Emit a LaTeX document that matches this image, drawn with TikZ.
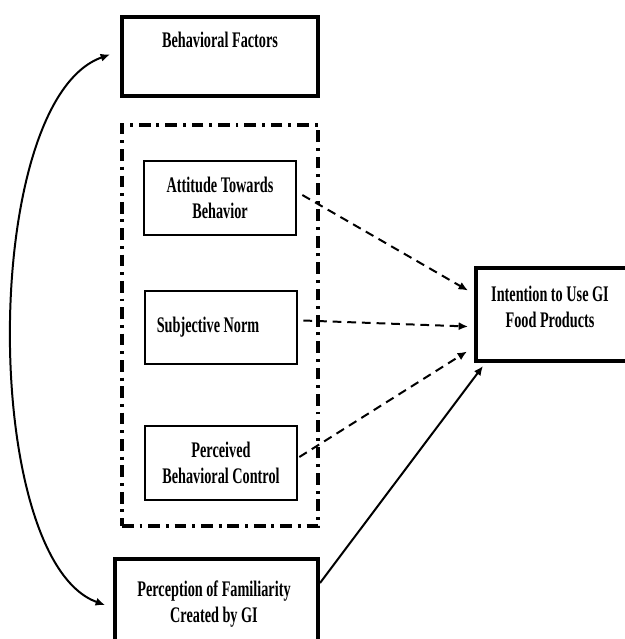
\documentclass[tikz,border=0pt]{standalone}
\usepackage{fontspec}
\setmainfont[FakeStretch=0.64]{Liberation Serif}
\usetikzlibrary{arrows.meta, positioning}

\begin{document}
\begin{tikzpicture}[x=0.03cm,y=-0.03cm,>={Latex[length=8pt,width=7pt]},
                every node/.style={align=center, font=\bfseries\fontsize{19}{22}\selectfont},
                outer/.style={draw, rectangle, line width=3.4pt, inner sep=0pt},
                inner/.style={draw, rectangle, line width=2pt, inner sep=0pt, minimum width=4.57cm},
                group/.style={draw, rectangle, line width=3.4pt, dash pattern=on 10pt off 5pt on 2.5pt off 5pt},
                link/.style={->, line width=1.7pt},
                dashlink/.style={->, line width=1.7pt, dash pattern=on 7.5pt off 5pt}
                ]
                \useasboundingbox (0,0) rectangle (625,639);
                \node[outer, minimum width=5.88cm, minimum height=2.37cm] (bf) at (220,56.5) {};
                \node (bftext) at (220,40) {Behavioral Factors};
                \node[group, minimum width=5.88cm, minimum height=12.03cm] (grp) at (220,325.5) {};
                \node[inner, minimum height=2.22cm] (att) at (220,198) {Attitude Towards\\Behavior};
                \node[inner, minimum height=2.19cm] (sn) at (221,327.5) {};
                \node (sntext) at (208,327) {Subjective Norm};
                \node[inner, minimum height=2.22cm] (pbc) at (221,463) {Perceived\\Behavioral Control};
                \node[outer, minimum width=4.56cm, minimum height=2.79cm] (int) at (552,314.5) {};
                \node (inttext) at (550,307) {Intention to Use GI\\Food Products};
                \node[outer, minimum width=6.09cm, minimum height=2.58cm] (pf) at (216.5,602) {};
                \node (pftext) at (214,604) {Perception of Familiarity\\Created by GI};
                \draw[<->, line width=1.7pt] ([shift={(-10,-2)}]bf.west) .. controls (-20,100) and (-20,560) .. ([shift={(-8,3)}]pf.west);
                \draw[dashlink] ([shift={(5,-3)}]att.east) -- ([shift={(-6,-24)}]int.west);
                \draw[dashlink] ([shift={(5,-7)}]sn.east) -- ([shift={(-6,12)}]int.west);
                \draw[dashlink] ([shift={(1,-6)}]pbc.east) -- ([shift={(-7,37)}]int.west);
                \draw[link] ([shift={(0,-19)}]pf.east) -- ([shift={(9,3)}]int.south west);
        \end{tikzpicture}
\end{document}
